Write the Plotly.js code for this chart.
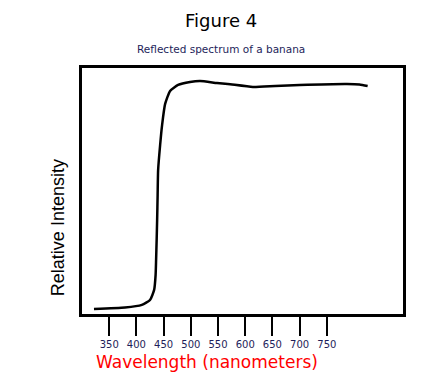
<!DOCTYPE html>
<html>
<head>
<meta charset="utf-8">
<script src="https://cdn.plot.ly/plotly-3.0.1.min.js"></script>
<style>html,body{margin:0;padding:0;background:#fff;}#chart{width:443px;height:377px;}</style>
</head>
<body>
<div id="chart"></div>
<script>
// Wavelength (nm) and relative intensity
var wavelength = [322, 379, 410, 425, 432.6, 435.3, 436.2, 437.2, 438.1, 439, 439.9, 443.6, 447.2, 452.8, 461.9, 476.6, 498.6, 517, 548, 568, 614, 655, 700, 787, 810, 825];
var intensity  = [2.0, 2.6, 3.7, 5.7, 9.8, 15.9, 22.0, 30.1, 38.2, 48.4, 58.5, 68.7, 76.8, 85.4, 90.7, 93.1, 94.3, 94.7, 93.9, 93.5, 92.3, 92.7, 93.1, 93.5, 93.3, 92.7];
var tickValues = [350, 400, 450, 500, 550, 600, 650, 700, 750];
var tickLabels = ["350", "400", "450", "500", "550", "600", "650", "700", "750"];

var navy = "#1e1e5a";
var trace = {
  x: wavelength, y: intensity, type: "scatter", mode: "lines",
  line: {color: "#000000", width: 2.5, shape: "spline", smoothing: 0.5},
  hoverinfo: "skip"
};
var layout = {
  width: 443, height: 377,
  margin: {l: 82, r: 40, t: 68, b: 63},
  paper_bgcolor: "#ffffff", plot_bgcolor: "#ffffff",
  showlegend: false,
  xaxis: {
    range: [300, 890], tickvals: tickValues, ticktext: tickLabels,
    ticks: "outside", ticklen: 19, tickwidth: 2, tickcolor: "#000000",
    showgrid: false, zeroline: false,
    showline: true, linecolor: "#000000", linewidth: 3, mirror: true,
    tickfont: {family: "DejaVu Sans", size: 10, color: navy}
  },
  yaxis: {
    range: [0, 100], showticklabels: false, ticks: "",
    showgrid: false, zeroline: false,
    showline: true, linecolor: "#000000", linewidth: 3, mirror: true
  },
  annotations: [
    {text: "Figure 4", xref: "paper", yref: "paper", x: 0.433, y: 1, yshift: 48,
     xanchor: "center", yanchor: "middle", showarrow: false,
     font: {family: "DejaVu Sans", size: 18, color: "#000000"}},
    {text: "Reflected spectrum of a banana", xref: "paper", yref: "paper", x: 0.433, y: 1, yshift: 19,
     xanchor: "center", yanchor: "middle", showarrow: false,
     font: {family: "DejaVu Sans", size: 10.5, color: navy}},
    {text: "Wavelength (nanometers)", xref: "paper", yref: "paper", x: 0.389, y: 0, yshift: -48,
     xanchor: "center", yanchor: "middle", showarrow: false,
     font: {family: "DejaVu Sans", size: 17, color: "#ff0000"}},
    {text: "Relative Intensity", xref: "paper", yref: "paper", x: 0, xshift: -24, y: 0.349,
     xanchor: "center", yanchor: "middle", showarrow: false, textangle: -90,
     font: {family: "Liberation Sans", size: 18, color: "#000000"}}
  ]
};
Plotly.newPlot("chart", [trace], layout, {staticPlot: true, displayModeBar: false});
</script>
</body>
</html>
